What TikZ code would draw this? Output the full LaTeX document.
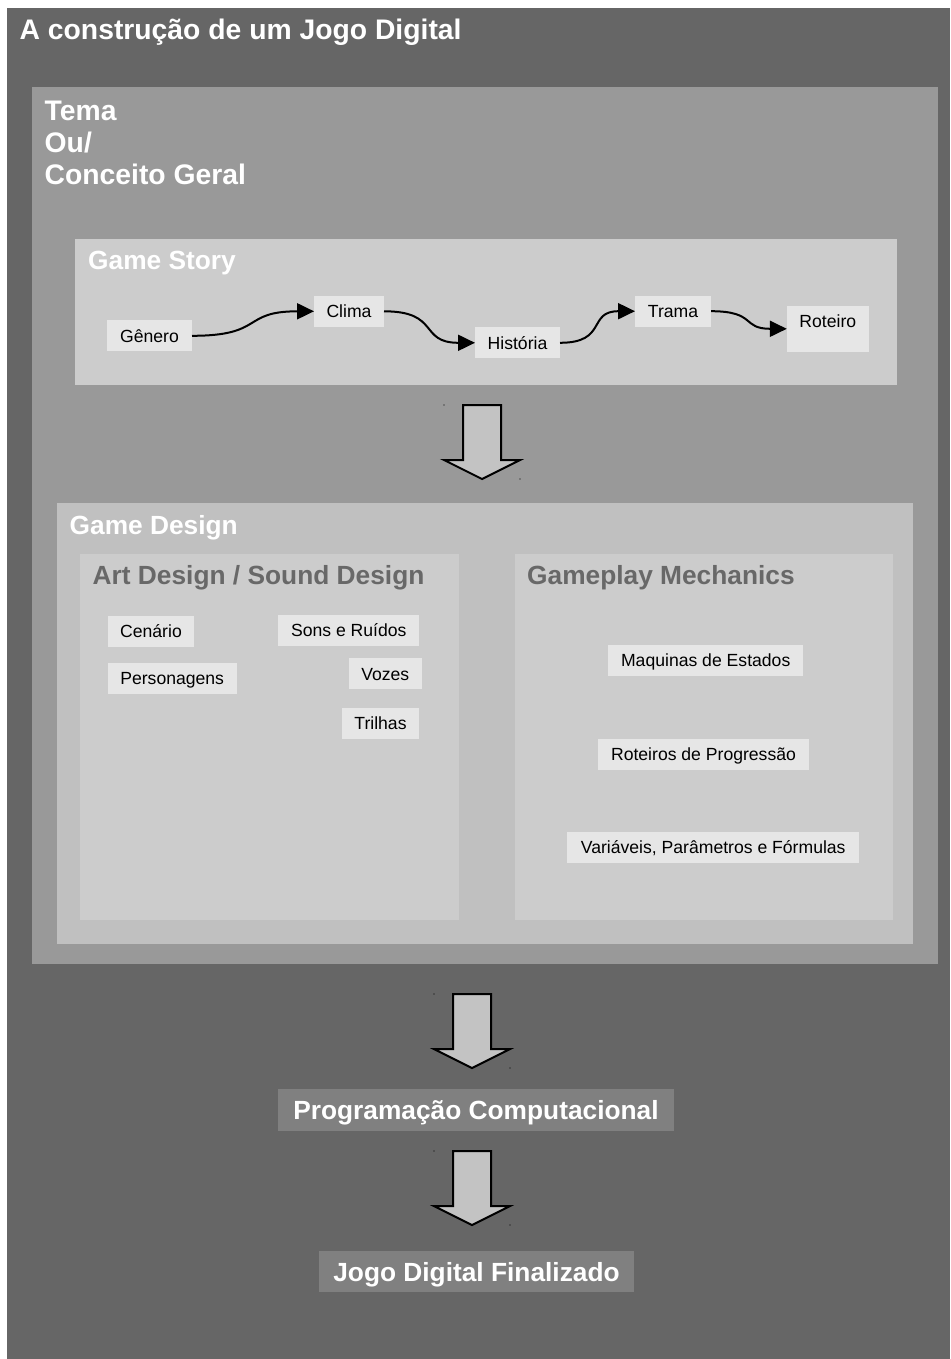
\documentclass[tikz,border=0pt]{standalone}
\usepackage{fontspec}
\setmainfont{Liberation Sans}
\usetikzlibrary{arrows.meta}

\definecolor{outerbg}{HTML}{666666}
\definecolor{temabg}{HTML}{999999}
\definecolor{storybg}{HTML}{CCCCCC}
\definecolor{designbg}{HTML}{C0C0C0}
\definecolor{subbg}{HTML}{CCCCCC}
\definecolor{itembg}{HTML}{E6E6E6}
\definecolor{stagebg}{HTML}{808080}
\definecolor{subtitle}{HTML}{686868}
\definecolor{arrowfill}{HTML}{C3C3C3}

\tikzset{
  panel/.style={draw=none, inner sep=0pt, outer sep=0pt, anchor=north west},
  bigtitle/.style={text=white, inner sep=0pt, font=\fontsize{28.3}{32}\selectfont\bfseries},
  sectitle/.style={inner sep=0pt, anchor=base west, font=\fontsize{26.3}{30}\selectfont\bfseries},
  item/.style={fill=itembg, inner sep=0pt, outer sep=0pt, minimum height=31pt,
    text height=13pt, text depth=0.5pt, font=\fontsize{17.6}{21}\selectfont},
  stage/.style={fill=stagebg, text=white, inner sep=0pt, outer sep=0pt,
    text height=19pt, text depth=0pt, font=\fontsize{26.3}{30}\selectfont\bfseries},
  flow/.style={line width=2pt, looseness=1.5, -{Triangle[length=17pt,width=16pt]}},
  blockarrow/.style={fill=arrowfill, draw=black, line width=2pt, line join=miter},
  blockdown/.pic={
    \path[blockarrow] (-19,0) -- (19,0) -- (19,55) -- (38,55) -- (0,74)
      -- (-38,55) -- (-19,55) -- cycle;
    \fill[black] (-38,0) circle (0.7);
    \fill[black] (38,74) circle (0.7);
  }
}

\begin{document}
\begin{tikzpicture}[x=1pt, y=-1pt]
\useasboundingbox (0,0) rectangle (950,1359);
\fill[white] (0,0) rectangle (950,1359);

% nested panels
\node[panel, fill=outerbg, minimum width=943pt, minimum height=1351pt] (outer) at (7,8) {};
\node[panel, fill=temabg, minimum width=906pt, minimum height=877pt] (tema) at (32,87) {};
\node[panel, fill=storybg, minimum width=822pt, minimum height=146pt] (story) at (75,239) {};
\node[panel, fill=designbg, minimum width=855.5pt, minimum height=441pt] (design) at (57.3,503.3) {};
\node[panel, fill=subbg, minimum width=379.3pt, minimum height=366pt] (art) at (80,554) {};
\node[panel, fill=subbg, minimum width=377.7pt, minimum height=366pt] (mech) at (515,554) {};

% headings
\node[bigtitle, anchor=base west] (maintitle) at (19.5,39.5) {A construção de um Jogo Digital};
\node[bigtitle, anchor=north west, align=left] (tematitle) at (44.5,100.5) {Tema\\Ou/\\Conceito Geral};
\node[sectitle, text=white] (storytitle) at (88,269) {Game Story};
\node[sectitle, text=white] (designtitle) at (69.5,534) {Game Design};
\node[sectitle, text=subtitle] (arttitle) at (92.5,584.3) {Art Design / Sound Design};
\node[sectitle, text=subtitle] (mechtitle) at (527,584.3) {Gameplay Mechanics};

% story chain
\node[item, minimum width=85pt] (genero) at (149.5,335.8) {Gênero};
\node[item, minimum width=70pt] (clima) at (349,311.3) {Clima};
\node[item, minimum width=85pt] (historia) at (517.5,342.8) {História};
\node[item, minimum width=76pt] (trama) at (673,311.2) {Trama};
\node[item, minimum width=82pt, minimum height=45.7pt, text depth=15.7pt] (roteiro) at (827.8,328.8) {Roteiro};

\draw[flow] (genero.east) to[out=0, in=180] (clima.west);
\draw[flow] (clima.east) to[out=0, in=180] (historia.west);
\draw[flow] (historia.east) to[out=0, in=180] (trama.west);
\draw[flow] (trama.east) to[out=0, in=180] (roteiro.west);

% art and sound items
\node[item, minimum width=86.6pt] (cenario) at (151,631.7) {Cenário};
\node[item, minimum width=129pt] (personagens) at (172.2,678.7) {Personagens};
\node[item, minimum width=141pt] (sons) at (348.8,630) {Sons e Ruídos};
\node[item, minimum width=72.7pt] (vozes) at (385.3,673.8) {Vozes};
\node[item, minimum width=77.6pt] (trilhas) at (380.5,723.2) {Trilhas};

% mechanics items
\node[item, minimum width=194.7pt] (maquinas) at (705.7,660.7) {Maquinas de Estados};
\node[item, minimum width=211pt] (progressao) at (703.5,754.3) {Roteiros de Progressão};
\node[item, minimum width=291.7pt] (variaveis) at (713.2,847) {Variáveis, Parâmetros e Fórmulas};

% final stages
\node[stage, minimum width=396pt, minimum height=42pt] (programacao) at (476,1110) {Programação Computacional};
\node[stage, minimum width=315pt, minimum height=41.6pt] (jogo) at (476.5,1271.5) {Jogo Digital Finalizado};

% block arrows between stages
\pic (arrowA) at (482,405) {blockdown};
\pic (arrowB) at (472,994) {blockdown};
\pic (arrowC) at (472,1151) {blockdown};
\end{tikzpicture}
\end{document}
